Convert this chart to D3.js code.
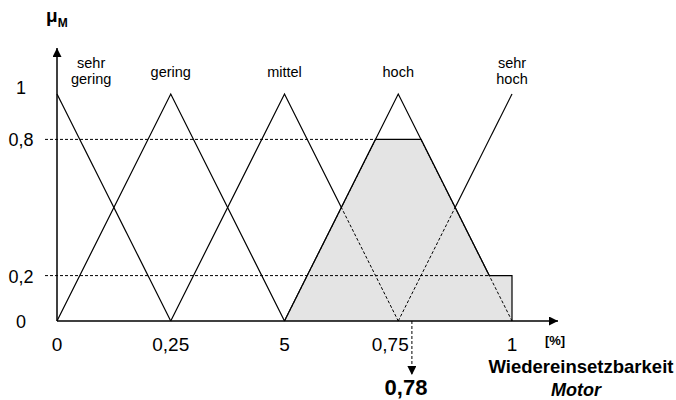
<!DOCTYPE html>
<html>
<head>
<meta charset="utf-8">
<script src="https://cdn.jsdelivr.net/npm/d3@7"></script>
<style>
  body { margin: 0; background: #fff; }
  text { font-family: Arial, "Liberation Sans", sans-serif; fill: #000; }
</style>
</head>
<body>
<script>
var w = 676;
var h = 400;

// fuzzy terms (triangles: left foot, peak, right foot)
var terms = ["sehr gering", "gering", "mittel", "hoch", "sehr hoch"];
var termPoints = [
    [[0, 1], [0.25, 0]],
    [[0, 0], [0.25, 1], [0.5, 0]],
    [[0.25, 0], [0.5, 1], [0.75, 0]],
    [[0.5, 0], [0.75, 1], [1, 0]],
    [[0.75, 0], [1, 1]]
];
var termLabelX = [0.075, 0.25, 0.5, 0.75, 1];

// activation of "hoch" and "sehr hoch"
var activeTerms = [3, 4];
var activeLevels = [0.8, 0.2];
var result = 0.78;
var resultLabel = "0,78";

var xTicks = [0, 0.25, 0.5, 0.75, 1];
var xTickLabels = ["0", "0,25", "5", "0,75", "1"];
var yTicks = [0, 0.2, 0.8, 1];
var yTickLabels = ["0", "0,2", "0,8", "1"];

var svg = d3.select("body").append("svg")
    .attr("width", w)
    .attr("height", h);

var x = d3.scaleLinear().domain([0, 1]).range([57, 512]);
var y = d3.scaleLinear().domain([0, 1]).range([321, 94]);

var defs = svg.append("defs");
defs.append("marker").attr("id", "arr")
    .attr("viewBox", "0 0 10 10").attr("refX", 10).attr("refY", 5)
    .attr("markerWidth", 10).attr("markerHeight", 9)
    .attr("markerUnits", "userSpaceOnUse")
    .attr("orient", "auto")
    .append("path").attr("d", "M0,0 L10,5 L0,10 Z").attr("fill", "#000");

// membership of a term at position v
function mu(i, v) {
    var p = termPoints[i];
    for (var k = 0; k < p.length - 1; k++) {
        if (v >= p[k][0] && v <= p[k + 1][0]) {
            var t = (v - p[k][0]) / (p[k + 1][0] - p[k][0]);
            return p[k][1] + t * (p[k + 1][1] - p[k][1]);
        }
    }
    return 0;
}

// aggregated (clipped) area, sampled on breakpoints
var xs = d3.range(0.5, 1.00001, 0.05).concat([1]);
var area = xs.map(function (v) {
    var m = d3.max(activeTerms, function (t, j) { return Math.min(mu(t, v), activeLevels[j]); });
    return [v, m];
});
area.push([1, 0]);

var line = d3.line().x(function (d) { return x(d[0]); }).y(function (d) { return y(d[1]); });

// solid triangles
svg.append("g").selectAll("path").data(termPoints).enter().append("path")
    .attr("d", line).attr("fill", "none").attr("stroke", "#000").attr("stroke-width", 1.2);

// shaded area
svg.append("path").attr("d", line(area) + "Z")
    .attr("fill", "#e4e4e4").attr("stroke", "none");

defs.append("clipPath").attr("id", "clipArea")
    .append("path").attr("d", line(area) + "Z");

// dashed parts of the triangles inside the area
svg.append("g").attr("clip-path", "url(#clipArea)")
    .selectAll("path").data(termPoints).enter().append("path")
    .attr("d", line).attr("fill", "none").attr("stroke", "#000")
    .attr("stroke-width", 1).attr("stroke-dasharray", "3,2");

// dashed activation levels
svg.append("g").selectAll("line").data(activeLevels).enter().append("line")
    .attr("x1", x(0) - 12)
    .attr("x2", function (d, j) {
        // left side of the clipped term for 0.8, right side for 0.2
        var p = termPoints[activeTerms[0]];
        if (j === 0) return x(p[0][0] + d * (p[1][0] - p[0][0]));
        return x(p[2][0] - d * (p[2][0] - p[1][0]));
    })
    .attr("y1", function (d) { return y(d); })
    .attr("y2", function (d) { return y(d); })
    .attr("stroke", "#000").attr("stroke-width", 1).attr("stroke-dasharray", "3,2");

// outline of area (top edges)
svg.append("path").attr("d", line(area))
    .attr("fill", "none").attr("stroke", "#000").attr("stroke-width", 1.2);

// axes
svg.append("line").attr("x1", x(0)).attr("x2", x(0)).attr("y1", y(0)).attr("y2", 48)
    .attr("stroke", "#000").attr("stroke-width", 1.5).attr("marker-end", "url(#arr)");
svg.append("line").attr("x1", x(0)).attr("x2", 558).attr("y1", y(0)).attr("y2", y(0))
    .attr("stroke", "#000").attr("stroke-width", 1.5).attr("marker-end", "url(#arr)");

// result arrow
svg.append("line").attr("x1", x(result)).attr("x2", x(result)).attr("y1", y(0)).attr("y2", 375)
    .attr("stroke", "#000").attr("stroke-width", 1).attr("stroke-dasharray", "3,2")
    .attr("marker-end", "url(#arr)");

// tick labels
svg.append("g").selectAll("text").data(xTicks).enter().append("text")
    .attr("x", function (d) { return x(d); }).attr("y", 351)
    .attr("dx", function (d) { return d === 0.75 ? -8 : 0; })
    .attr("text-anchor", "middle").style("font-size", "19px")
    .text(function (d, i) { return xTickLabels[i]; });

svg.append("g").selectAll("text").data(yTicks).enter().append("text")
    .attr("x", 21).attr("y", function (d) { return y(d) + (d === 1 ? 0 : 7); })
    .attr("text-anchor", "middle").style("font-size", "18px")
    .text(function (d, i) { return yTickLabels[i]; });

// term labels
var tl = svg.append("g").selectAll("text").data(terms).enter().append("text")
    .attr("text-anchor", "middle").style("font-size", "14.5px")
    .attr("x", function (d, i) { return x(termLabelX[i]); })
    .attr("y", function (d) { return d.indexOf(" ") > 0 ? 68 : 77; });
tl.each(function (d) {
    var parts = d.split(" ");
    var t = d3.select(this);
    parts.forEach(function (p, k) {
        t.append("tspan").attr("x", t.attr("x")).attr("dy", k === 0 ? 0 : 16).text(p);
    });
});

// axis titles
var mt = svg.append("text").attr("x", 46).attr("y", 22)
    .style("font-size", "19px").style("font-weight", "bold");
mt.append("tspan").text("\u03bc");
mt.append("tspan").attr("dy", 5).style("font-size", "12px").text("M");

svg.append("text").attr("x", 555).attr("y", 345).attr("text-anchor", "middle")
    .style("font-size", "13px").style("font-weight", "bold").text("[%]");
svg.append("text").attr("x", 581).attr("y", 373).attr("text-anchor", "middle")
    .style("font-size", "18.5px").style("font-weight", "bold").text("Wiedereinsetzbarkeit");
svg.append("text").attr("x", 576).attr("y", 396).attr("text-anchor", "middle")
    .style("font-size", "18px").style("font-weight", "bold").style("font-style", "italic").text("Motor");
svg.append("text").attr("x", 406).attr("y", 395).attr("text-anchor", "middle")
    .style("font-size", "22px").style("font-weight", "bold").text(resultLabel);
</script>
</body>
</html>
